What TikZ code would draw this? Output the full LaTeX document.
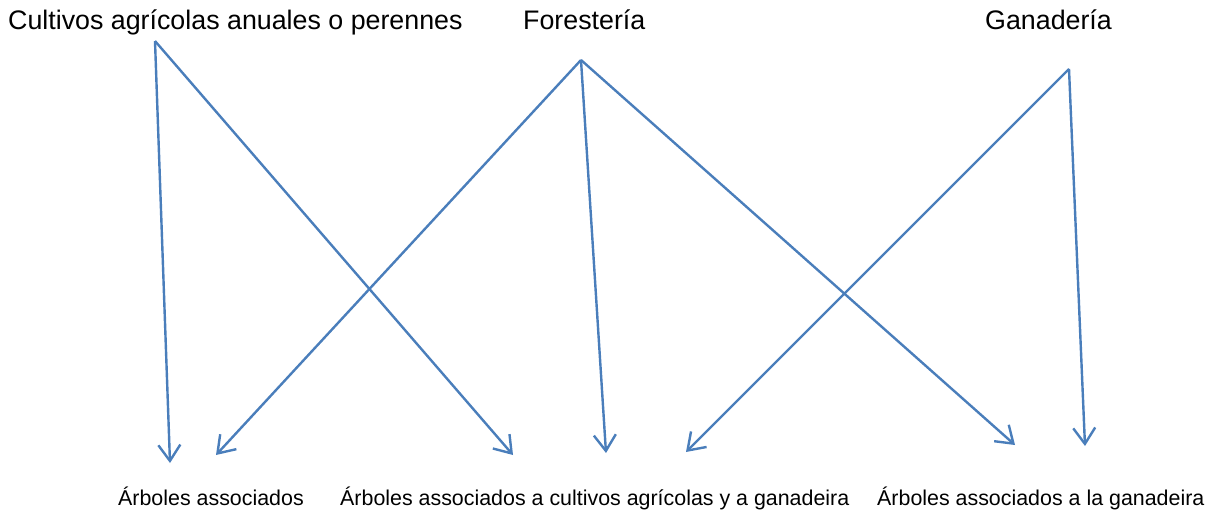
\documentclass[tikz,border=0pt]{standalone}
\usepackage{fontspec}
\setmainfont{Liberation Sans}
\usetikzlibrary{arrows.meta}
\definecolor{lineblue}{HTML}{4A7EBB}
\tikzset{
  toplabel/.style={anchor=base west, inner sep=0pt, font=\fontsize{26.8}{30}\selectfont},
  botlabel/.style={anchor=base west, inner sep=0pt, font=\fontsize{21.4}{24}\selectfont},
  link/.style={draw=lineblue, line width=2.4pt, -{Straight Barb[length=16pt,width=22pt,line width=2.4pt]}},
}
\begin{document}
\begin{tikzpicture}[x=1pt,y=-1pt]
\useasboundingbox (0,0) rectangle (1211,512);
% top labels
\node[toplabel] (cult) at (8,29) {Cultivos agrícolas anuales o perennes};
\node[toplabel] (fore) at (523,29) {Forestería};
\node[toplabel] (gana) at (985,29) {Ganadería};
% bottom labels
\node[botlabel] (arb1) at (118,505) {Árboles associados};
\node[botlabel] (arb2) at (340,505) {Árboles associados a cultivos agrícolas y a ganadeira};
\node[botlabel] (arb3) at (877,505) {Árboles associados a la ganadeira};
% connector end points
\coordinate (sC) at (155,41);
\coordinate (sF) at (581,60);
\coordinate (sG) at (1069,69);
\coordinate (e1) at (170,463);
\coordinate (e2) at (513,455);
\coordinate (e3) at (216,455);
\coordinate (e4) at (606,453);
\coordinate (e5) at (1015,445);
\coordinate (e6) at (686,452);
\coordinate (e7) at (1085,446);
% connectors
\draw[link] (sC) -- (e1);
\draw[link] (sC) -- (e2);
\draw[link] (sF) -- (e3);
\draw[link] (sF) -- (e4);
\draw[link] (sF) -- (e5);
\draw[link] (sG) -- (e6);
\draw[link] (sG) -- (e7);
\end{tikzpicture}
\end{document}
